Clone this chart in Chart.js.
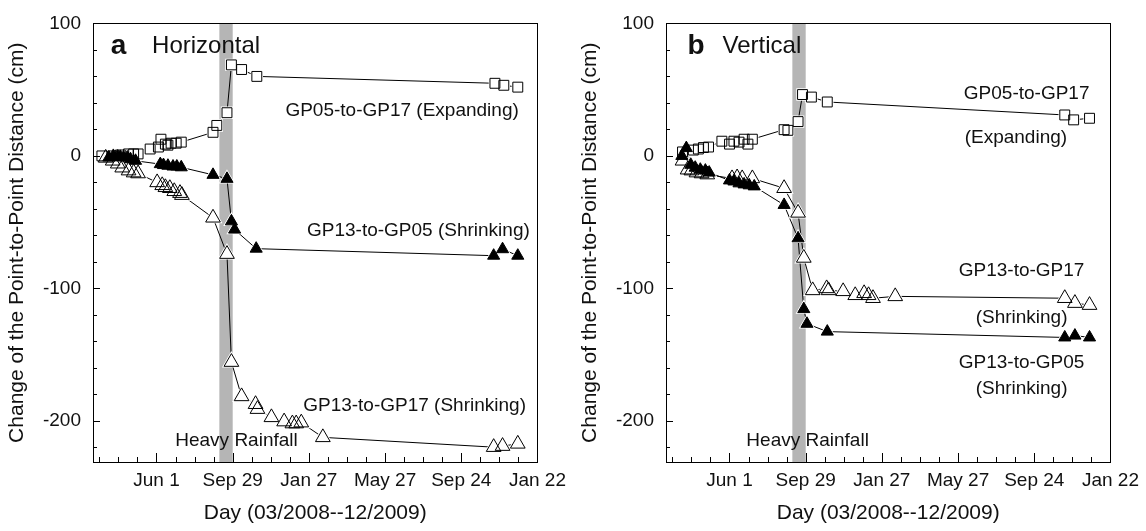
<!DOCTYPE html>
<html>
<head>
<meta charset="utf-8">
<script src="https://cdn.jsdelivr.net/npm/chart.js@4/dist/chart.umd.min.js"></script>
<style>
  html, body { margin: 0; padding: 0; background: #fff; }
  #wrap { position: relative; width: 1146px; height: 531px; }
  canvas { position: absolute; top: 0; }
</style>
</head>
<body>
<div id="wrap">
  <canvas id="chartH" width="573" height="531" style="left:0"></canvas>
  <canvas id="chartV" width="573" height="531" style="left:573px"></canvas>
</div>
<script>
// axis extents (day numbers counted from 1 Jan 2008)
const DAY_MIN = 52, DAY_MAX = 752;
const VAL_MIN = -231, VAL_MAX = 100;
const xMajorTicks = [152, 272, 392, 512, 632, 752];
const xTickLabels = ["Jun 1", "Sep 29", "Jan 27", "May 27", "Sep 24", "Jan 22"];
const yMajorTicks = [-200, -100, 0, 100];
const rainfallBand = [251, 272];

// panel a: horizontal
const hExpDays = [66, 83, 95, 108, 116, 123, 142, 155, 159, 166, 170, 175, 183, 191, 241, 247, 263, 270, 286, 310, 685, 699, 721];
const hExpVals = [0, 0, 0.7, 1.5, 1.5, 1.5, 5.2, 6.7, 12.6, 8.9, 8.1, 9.6, 9.6, 10.4, 17.8, 23, 32.6, 68.7, 65.2, 60, 54.8, 53.3, 51.9];
const hC05Days = [77, 84, 91, 95, 100, 106, 111, 119, 158, 163, 170, 178, 184, 191, 241, 263, 270, 275, 309, 683, 697, 721];
const hC05Vals = [-1.2, 0, -0.5, -0.7, -1.2, -1.2, -2.5, -3.7, -6.2, -6.9, -7.4, -8, -8, -8.6, -14.3, -17.3, -49.4, -55.6, -70, -75.3, -70.4, -75.3];
const hC17Days = [72, 83, 91, 98, 108, 116, 123, 153, 161, 166, 173, 180, 189, 192, 241, 263, 270, 286, 308, 311, 333, 353, 366, 372, 380, 414, 683, 697, 721];
const hC17Vals = [-1.5, -3.7, -5.9, -8.9, -11.1, -12.6, -13.3, -20, -22.2, -23.7, -24.4, -26.7, -28.1, -29.6, -46.7, -74.1, -155.6, -181.5, -187.4, -191.1, -197.3, -200.5, -202, -202, -201.3, -212.4, -219.8, -219, -217.3];

// panel b: vertical
const vExpDays = [78, 95, 103, 111, 119, 140, 152, 159, 167, 175, 181, 188, 238, 244, 260, 267, 281, 306, 680, 694, 719];
const vExpVals = [3.0, 4.4, 5.2, 6.3, 6.7, 11.1, 8.9, 11.1, 10.4, 12.6, 8.9, 12.6, 19.8, 19.3, 25.9, 46.3, 44.4, 40.7, 30.9, 27.2, 28.4];
const vC05Days = [77, 84, 91, 98, 106, 114, 120, 152, 159, 167, 175, 183, 191, 238, 260, 269, 274, 306, 680, 696, 719];
const vC05Vals = [0, 5.9, -6.7, -8.9, -10.4, -11.1, -12.6, -18.5, -19.3, -20.7, -21.5, -22.2, -23.0, -37.0, -62.2, -115.6, -126.7, -132.6, -137.0, -135.6, -137.0];
const vC17Days = [78, 86, 92, 100, 108, 117, 156, 164, 172, 188, 238, 260, 269, 283, 305, 308, 331, 350, 364, 371, 378, 413, 680, 696, 719];
const vC17Vals = [-3.7, -10.4, -11.1, -12.6, -13.3, -14.1, -17.0, -16.3, -17.0, -17.0, -24.4, -43.0, -77.0, -101.5, -100.0, -101.5, -102.2, -105.2, -103.7, -105.2, -107.4, -106.0, -107.4, -111.1, -112.6];

const FONT = "'Liberation Sans', Arial, Helvetica, sans-serif";
const INK = "#111";

// minor tick positions
const xMinorTicks = [];
for (let d = 62; d <= DAY_MAX; d += 30) xMinorTicks.push(d);
const yMinorTicks = [];
for (let v = -220; v <= VAL_MAX; v += 20) yMinorTicks.push(v);

// inward ticks, box, rainfall band and text notes
const framePlugin = {
    id: "frame",
    beforeDatasetsDraw(chart) {
        const { ctx, chartArea: a, scales: { x } } = chart;
        const x0 = x.getPixelForValue(rainfallBand[0]);
        const x1 = x.getPixelForValue(rainfallBand[1]);
        ctx.save();
        ctx.fillStyle = "#b5b5b5";
        ctx.fillRect(x0, a.top, x1 - x0, a.bottom - a.top);
        ctx.restore();
    },
    afterDatasetsDraw(chart) {
        const { ctx, chartArea: a, scales: { x, y } } = chart;
        ctx.save();
        ctx.strokeStyle = "#000";
        ctx.lineWidth = 1;
        ctx.beginPath();
        x.ticks.forEach((t) => {
            const px = Math.round(x.getPixelForValue(t.value)) + 0.5;
            const len = xMajorTicks.includes(t.value) ? 9 : 5;
            ctx.moveTo(px, a.bottom);
            ctx.lineTo(px, a.bottom - len);
        });
        y.ticks.forEach((t) => {
            const py = Math.round(y.getPixelForValue(t.value)) + 0.5;
            const len = yMajorTicks.includes(t.value) ? 7 : 4;
            ctx.moveTo(a.left, py);
            ctx.lineTo(a.left + len, py);
        });
        ctx.stroke();
        ctx.strokeRect(Math.round(a.left) + 0.5, Math.round(a.top) + 0.5,
            Math.round(a.right - a.left), Math.round(a.bottom - a.top));
        ctx.restore();
    },
    afterDraw(chart, args, opts) {
        const { ctx, scales: { x, y } } = chart;
        ctx.save();
        ctx.fillStyle = INK;
        ctx.textBaseline = "middle";
        (opts.notes || []).forEach((n) => {
            ctx.font = n.font;
            ctx.textAlign = n.align;
            ctx.fillText(n.text, x.getPixelForValue(n.x), y.getPixelForValue(n.y));
        });
        ctx.restore();
    },
};

const seriesSets = (days, vals, style, radius, filled) => {
    const pts = days.map((d, i) => ({ x: d, y: vals[i] }));
    return [
        { data: pts, showLine: true, borderColor: "#000", borderWidth: 1, pointRadius: 0, order: 3 },
        {
            data: pts, showLine: false, pointStyle: style, pointRadius: radius,
            pointBackgroundColor: "#fff", pointBorderColor: "#fff", pointBorderWidth: 2.5, order: 2,
        },
        {
            data: pts, showLine: false, pointStyle: style, pointRadius: radius,
            pointBackgroundColor: filled ? "#000" : "rgba(0,0,0,0)",
            pointBorderColor: "#000", pointBorderWidth: 1, order: 1,
        },
    ];
};

const make_chart = (canvas_id, datasets, notes) => {
    const ctx = document.getElementById(canvas_id).getContext("2d");
    return new Chart(ctx, {
        type: "scatter",
        data: { datasets },
        plugins: [framePlugin],
        options: {
            responsive: false,
            animation: false,
            events: [],
            clip: false,
            layout: { padding: { top: 15, right: 32, left: 0, bottom: 0 } },
            plugins: {
                legend: { display: false },
                tooltip: { enabled: false },
                frame: { notes },
            },
            scales: {
                x: {
                    type: "linear",
                    min: DAY_MIN,
                    max: DAY_MAX,
                    afterBuildTicks: (s) => { s.ticks = xMinorTicks.map((v) => ({ value: v })); },
                    afterFit: (s) => { s.height = 69; },
                    grid: { display: false, drawTicks: false },
                    border: { display: false },
                    ticks: {
                        autoSkip: false,
                        maxRotation: 0,
                        padding: 7,
                        color: INK,
                        font: { family: FONT, size: 19 },
                        callback: (v) => {
                            const i = xMajorTicks.indexOf(v);
                            return i >= 0 ? xTickLabels[i] : "";
                        },
                    },
                    title: {
                        display: true,
                        text: "Day (03/2008--12/2009)",
                        color: INK,
                        font: { family: FONT, size: 21, lineHeight: 1.2 },
                        padding: { top: 0, bottom: 5 },
                    },
                },
                y: {
                    min: VAL_MIN,
                    max: VAL_MAX,
                    afterBuildTicks: (s) => { s.ticks = yMinorTicks.map((v) => ({ value: v })); },
                    afterFit: (s) => { s.width = 93; },
                    grid: { display: false, drawTicks: false },
                    border: { display: false },
                    ticks: {
                        autoSkip: false,
                        padding: 12,
                        color: INK,
                        font: { family: FONT, size: 19 },
                        callback: (v) => (yMajorTicks.includes(v) ? String(v) : ""),
                    },
                    title: {
                        display: true,
                        text: "Change of the Point-to-Point Distance (cm)",
                        color: INK,
                        font: { family: FONT, size: 21, lineHeight: 1.2 },
                        padding: { top: 5, bottom: 0 },
                    },
                },
            },
        },
    });
};

const LABEL = "19px " + FONT;
const HEAD = "24px " + FONT;
const HEAD_B = "bold 28px " + FONT;

make_chart("chartH", [
    ...seriesSets(hC05Days, hC05Vals, "triangle", 7, true),
    ...seriesSets(hC17Days, hC17Vals, "triangle", 8.5, false),
    ...seriesSets(hExpDays, hExpVals, "rect", 7, false),
], [
    { text: "a", x: 80, y: 83, align: "left", font: HEAD_B },
    { text: "Horizontal", x: 145, y: 83, align: "left", font: HEAD },
    { text: "GP05-to-GP17 (Expanding)", x: 355, y: 34, align: "left", font: LABEL },
    { text: "GP13-to-GP05 (Shrinking)", x: 389, y: -56.8, align: "left", font: LABEL },
    { text: "GP13-to-GP17 (Shrinking)", x: 383, y: -188.9, align: "left", font: LABEL },
    { text: "Heavy Rainfall", x: 278, y: -215.3, align: "center", font: LABEL },
]);

make_chart("chartV", [
    ...seriesSets(vC05Days, vC05Vals, "triangle", 7, true),
    ...seriesSets(vC17Days, vC17Vals, "triangle", 8.5, false),
    ...seriesSets(vExpDays, vExpVals, "rect", 7, false),
], [
    { text: "b", x: 86, y: 83, align: "left", font: HEAD_B },
    { text: "Vertical", x: 141, y: 83, align: "left", font: HEAD },
    { text: "GP05-to-GP17", x: 620, y: 46.9, align: "center", font: LABEL },
    { text: "(Expanding)", x: 603, y: 13.6, align: "center", font: LABEL },
    { text: "GP13-to-GP17", x: 612, y: -86.4, align: "center", font: LABEL },
    { text: "(Shrinking)", x: 612, y: -122.2, align: "center", font: LABEL },
    { text: "GP13-to-GP05", x: 612, y: -156.3, align: "center", font: LABEL },
    { text: "(Shrinking)", x: 612, y: -175.8, align: "center", font: LABEL },
    { text: "Heavy Rainfall", x: 275, y: -214.8, align: "center", font: LABEL },
]);
</script>
</body>
</html>
